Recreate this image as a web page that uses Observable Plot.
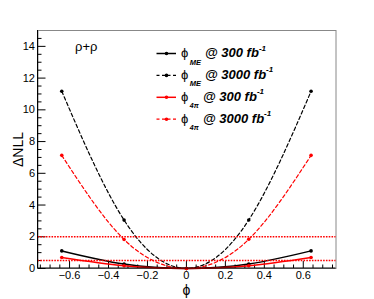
<!DOCTYPE html>
<html><head><meta charset="utf-8">
<script src="https://cdn.jsdelivr.net/npm/d3@7"></script>
<script src="https://cdn.jsdelivr.net/npm/@observablehq/plot@0.6"></script>
<style>
html,body{margin:0;padding:0;background:#fff;}
#chart{position:relative;width:374px;height:299px;}
svg{overflow:visible}
</style></head><body><div id="chart"></div>
<script>
// ---- data ----
const phiValues = [-0.64, -0.32, 0, 0.32, 0.64];
const nllME300 = [1.11, 0.28, 0, 0.28, 1.11];
const nllME3000 = [11.17, 3.05, 0, 3.06, 11.17];
const nll4pi300 = [0.69, 0.17, 0, 0.17, 0.69];
const nll4pi3000 = [7.13, 1.83, 0, 1.84, 7.13];
const thresholdLines = [0.5, 2];

const seriesIds = ["ME300", "ME3000", "4pi300", "4pi3000"];
const seriesValues = [nllME300, nllME3000, nll4pi300, nll4pi3000];
const seriesSub = ["ME", "ME", "4π", "4π"];
const seriesLumi = ["300", "3000", "300", "3000"];
const seriesColor = ["#000000", "#000000", "#ff0000", "#ff0000"];
const seriesDashed = [false, true, false, true];

const xMajorTicks = [-0.6, -0.4, -0.2, 0, 0.2, 0.4, 0.6];
const xMinorTicks = [-0.75,-0.7,-0.65,-0.55,-0.5,-0.45,-0.35,-0.3,-0.25,-0.15,-0.1,-0.05,0.05,0.1,0.15,0.25,0.3,0.35,0.45,0.5,0.55,0.65,0.7,0.75];
const yMajorTicks = [0, 2, 4, 6, 8, 10, 12, 14];
const yMinorTicks = [0.5,1,1.5,2.5,3,3.5,4.5,5,5.5,6.5,7,7.5,8.5,9,9.5,10.5,11,11.5,12.5,13,13.5,14.5];

// ---- build table ----
const rows = [];
seriesIds.forEach((id, s) => {
  phiValues.forEach((p, i) => rows.push({series: id, phi: p, nll: seriesValues[s][i]}));
});

const fmt = d => d === 0 ? "0" : d3.format(".1f")(d);
const FONT = "'Liberation Sans', Arial, Helvetica, sans-serif";

const marks = [];
seriesIds.forEach((id, s) => {
  const data = rows.filter(r => r.series === id);
  marks.push(Plot.line(data, {
    x: "phi", y: "nll", curve: "natural",
    stroke: seriesColor[s],
    strokeWidth: seriesDashed[s] ? 1.2 : 1.5,
    strokeDasharray: seriesDashed[s] ? "3.5,2.5" : null
  }));
  marks.push(Plot.dot(data, {x: "phi", y: "nll", r: 1.8, fill: seriesColor[s], stroke: null}));
});
marks.push(Plot.ruleY(thresholdLines, {stroke: "#ff0000", strokeWidth: 1.4, strokeDasharray: "1.6,1.2"}));

const plot = Plot.plot({
  width: 374, height: 299,
  marginLeft: 37.5, marginRight: 38.5, marginTop: 30, marginBottom: 31,
  style: {fontFamily: FONT, fontSize: "11px", color: "#000", background: "#fff"},
  x: {domain: [-0.762, 0.768]},
  y: {domain: [0, 15]},
  marks: [
    Plot.frame({stroke: "#888", strokeWidth: 1}),
    Plot.axisX({ticks: xMajorTicks, tickSize: 0, tickPadding: 3, tickFormat: fmt, label: null, fontSize: 11}),
    Plot.axisX({ticks: xMajorTicks, tickSize: -7, text: null, label: null}),
    Plot.axisX({ticks: xMinorTicks, tickSize: -3.5, text: null, label: null}),
    Plot.axisY({ticks: yMajorTicks, tickSize: 0, tickPadding: 3, tickFormat: d => String(d), label: null, fontSize: 11}),
    Plot.axisY({ticks: yMajorTicks, tickSize: -8, text: null, label: null}),
    Plot.axisY({ticks: yMinorTicks, tickSize: -4, text: null, label: null}),
    ...marks,
    Plot.text(["ΔNLL"], {frameAnchor: "left", rotate: -90, dx: -19, fontSize: 14, textAnchor: "middle", lineAnchor: "middle"}),
    Plot.text(["ϕ"], {frameAnchor: "bottom", dy: 22, dx: -0.5, fontSize: 14, lineAnchor: "middle"}),
    Plot.text(["ρ+ρ"], {frameAnchor: "top-left", dx: 37, dy: 16, fontSize: 13, textAnchor: "start", lineAnchor: "middle"})
  ]
});

// solid left/bottom axis lines
const svg = d3.select(plot);
svg.append("line").attr("x1", 37.5).attr("x2", 37.5).attr("y1", 30).attr("y2", 268).attr("stroke", "#000");
svg.append("line").attr("x1", 37.5).attr("x2", 335.5).attr("y1", 268).attr("y2", 268).attr("stroke", "#000");

// legend
const lg = svg.append("g").attr("font-family", FONT).attr("text-anchor", "start");
seriesIds.forEach((id, s) => {
  const base = 57 + s * 21.9;
  const g = lg.append("g").attr("transform", `translate(0,${base})`);
  g.append("line").attr("x1", 156.5).attr("x2", 176).attr("y1", -3.5).attr("y2", -3.5)
    .attr("stroke", seriesColor[s]).attr("stroke-width", seriesDashed[s] ? 1.2 : 1.5)
    .attr("stroke-dasharray", seriesDashed[s] ? "3,2.5" : null);
  g.append("circle").attr("cx", 166.5).attr("cy", -3.5).attr("r", 1.8).attr("fill", seriesColor[s]);
  const t = g.append("text").attr("y", 0).attr("fill", "#000").attr("text-anchor", "start");
  t.append("tspan").attr("x", 181).attr("font-size", 13).text("ϕ");
  t.append("tspan").attr("dy", 7.5).attr("dx", 1.5).attr("font-size", seriesSub[s] === "ME" ? 7.5 : 7)
    .attr("font-weight", "bold").attr("font-style", "italic").text(seriesSub[s]);
  t.append("tspan").attr("x", seriesSub[s] === "ME" ? 205 : 203).attr("dy", -7.5).attr("font-size", 13)
    .attr("font-weight", "bold").attr("font-style", "italic").text("@ " + seriesLumi[s] + " fb");
  t.append("tspan").attr("dy", -6.5).attr("font-size", 8)
    .attr("font-weight", "bold").attr("font-style", "italic").text("-1");
});

document.getElementById("chart").appendChild(plot);
</script>
</body></html>
